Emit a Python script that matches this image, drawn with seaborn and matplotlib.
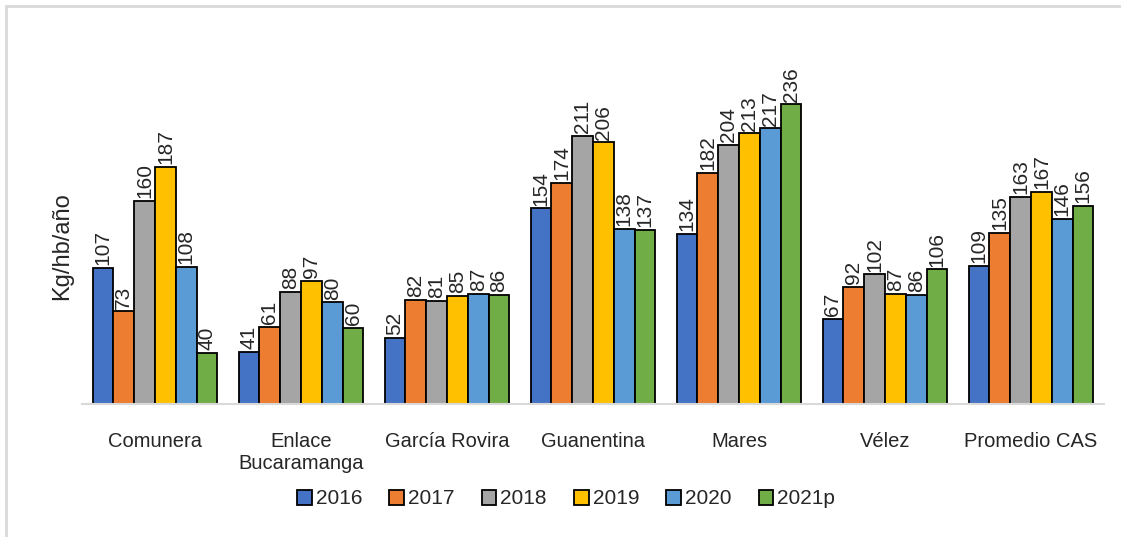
import pandas as pd
import numpy as np
import seaborn as sns
from matplotlib import pyplot as plt
from matplotlib.patches import Rectangle


# Regional values (Kg/hb/año) per year
regions = ['Comunera', 'Enlace\nBucaramanga', 'García Rovira', 'Guanentina',
           'Mares', 'Vélez', 'Promedio CAS']
years = ['2016', '2017', '2018', '2019', '2020', '2021p']
v2016 = [107, 41, 52, 154, 134, 67, 109]
v2017 = [73, 61, 82, 174, 182, 92, 135]
v2018 = [160, 88, 81, 211, 204, 102, 163]
v2019 = [187, 97, 85, 206, 213, 87, 167]
v2020 = [108, 80, 87, 138, 217, 86, 146]
v2021 = [40, 60, 86, 137, 236, 106, 156]
colors = ['#4472C4', '#ED7D31', '#A5A5A5', '#FFC000', '#5B9BD5', '#70AD47']

# Long format table for seaborn
series = [v2016, v2017, v2018, v2019, v2020, v2021]
df = pd.DataFrame({
    'region': regions * len(years),
    'year': np.repeat(years, len(regions)),
    'value': np.concatenate(series),
})

sns.set_style('white')
plt.rcParams['font.family'] = ['Liberation Sans Narrow', 'Liberation Sans', 'DejaVu Sans']

fig = plt.figure(figsize=(11.21, 5.37), dpi=100)
ax = fig.add_axes([82 / 1121, 1 - 404 / 537, 1022 / 1121, 381 / 537])

sns.barplot(data=df, x='region', y='value', hue='year', order=regions, hue_order=years,
            palette=colors, saturation=1, width=0.855, edgecolor='black', linewidth=1.3, ax=ax)

# Value labels above each bar
for cont in ax.containers:
    ax.bar_label(cont, fmt='%d', rotation=90, padding=2, fontsize=15)

ax.set_ylim(0, 300)
ax.set_xlim(-0.5, 6.5)
ax.set_xlabel('')
ax.set_ylabel('Kg/hb/año', fontsize=17, va='center', ha='center')
ax.yaxis.set_label_coords(-20 / 1022, (404 - 246) / 381)
ax.set_yticks([])
for s in ['top', 'right', 'left']:
    ax.spines[s].set_visible(False)
ax.spines['bottom'].set_color('#d9d9d9')
ax.spines['bottom'].set_linewidth(1.5)

ax.tick_params(axis='x', which='major', length=0, pad=20, labelsize=14.5)
ax.set_xticks(np.arange(-0.5, 7, 1), minor=True)
ax.tick_params(axis='x', which='minor', length=7, width=1.5, color='#d9d9d9')
for lbl in ax.get_xticklabels():
    lbl.set_verticalalignment('top')
    lbl.set_linespacing(1.2)

# Legend below the axis
handles, labels = ax.get_legend_handles_labels()
ax.legend_.remove()
fig.legend(handles, labels, loc='center', bbox_to_anchor=(0.505, 1 - 499 / 537), ncol=6,
           frameon=False, fontsize=15, handlelength=0.7, handleheight=0.7,
           handletextpad=0.2, columnspacing=1.3)

# Light outer frame (left and top edge)
fig.patches.append(Rectangle((6 / 1121, -0.1), 1.2, 1 - 6 / 537 + 0.1, transform=fig.transFigure,
                             fill=False, edgecolor='#d9d9d9', linewidth=2))

plt.savefig('out.png', dpi=100)
